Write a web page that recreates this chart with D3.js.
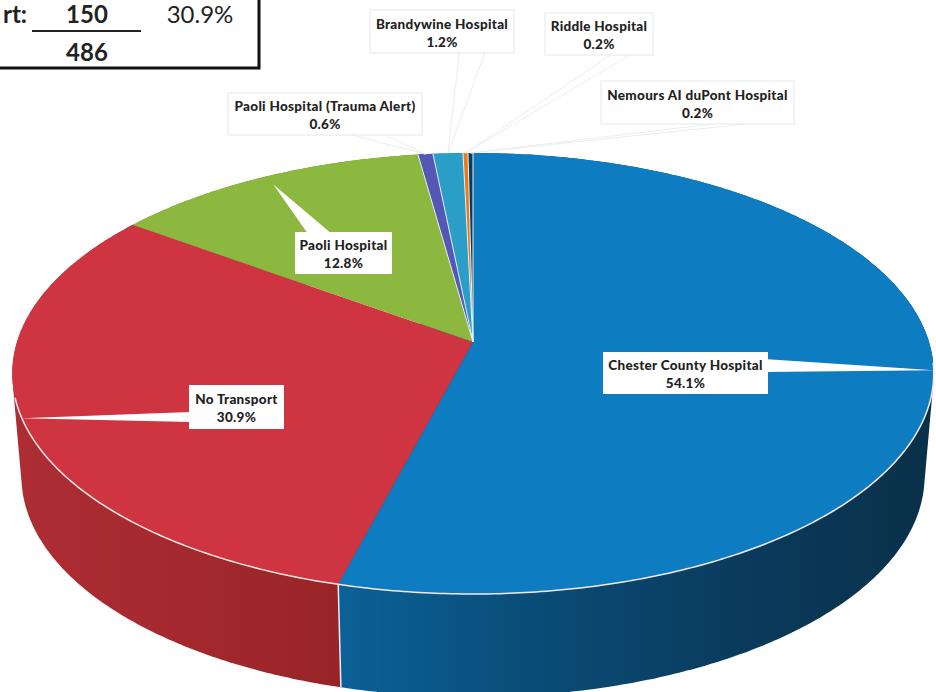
<!DOCTYPE html>
<html>
<head>
<meta charset="utf-8">
<script src="https://cdn.jsdelivr.net/npm/d3@7"></script>
<style>
  html, body { margin: 0; padding: 0; background: #fff; }
  svg { display: block; }
  text { font-family: Lato, "Open Sans", sans-serif; fill: #222; }
</style>
</head>
<body>
<div id="vis"></div>
<script>
// chart values
const hospitals = ["Chester County Hospital", "No Transport", "Paoli Hospital",
  "Paoli Hospital (Trauma Alert)", "Brandywine Hospital", "Riddle Hospital", "Nemours AI duPont Hospital"];
const shares = [54.1, 30.9, 12.8, 0.6, 1.2, 0.2, 0.2];
const tableLabel = "rt:";
const tableCount = "150";
const tableShare = "30.9%";
const tableTotal = "486";

// styling + layout, same order as hospitals
const topColors = ["#0e7cc1", "#cf3540", "#8cb83f", "#5557b5", "#2a9ec7", "#ea7a1c", "#0c3b5e"];
const wallColors = ["url(#wallBlue)", "url(#wallRed)", "#6c8f30", "#43458f", "#207a9a", "#b85f15", "#0a2c46"];
const boxes = [
  { x: 603, y: 352, w: 165, h: 42, side: "right", strong: true, tipR: 1 },
  { x: 189, y: 385, w: 95, h: 44, side: "left", strong: true, tipR: 1 },
  { x: 295, y: 232, w: 97, h: 42, side: "top", strong: true, tipR: 0.95 },
  { x: 228, y: 93, w: 194, h: 42, side: "bottom", tipR: 1 },
  { x: 370, y: 10, w: 144, h: 43, side: "bottom", tipR: 1 },
  { x: 545, y: 13, w: 108, h: 42, side: "bottom", tipR: 1 },
  { x: 601, y: 81, w: 193, h: 43, side: "bottom", tipR: 1 }
];

const width = 936, height = 692;

const svg = d3.select("#vis").append("svg")
  .attr("width", width)
  .attr("height", height);

const defs = svg.append("defs");
function wallGradient(id, x1, x2, stops) {
  const g = defs.append("linearGradient").attr("id", id)
    .attr("gradientUnits", "userSpaceOnUse")
    .attr("x1", x1).attr("x2", x2).attr("y1", 0).attr("y2", 0);
  stops.forEach(s => g.append("stop").attr("offset", s[0]).attr("stop-color", s[1]));
}
wallGradient("wallBlue", 340, 930, [[0, "#0b6198"], [0.35, "#0a4b75"], [0.7, "#0a3a5b"], [1, "#0a3049"]]);
wallGradient("wallRed", 15, 340, [[0, "#ad2d33"], [0.5, "#a4292e"], [1, "#982428"]]);

// perspective disc: the circle goes through a homography so the pie apex sits above the ellipse centre
const apexX = 473, apexY = 342, radiusX = 456, radiusY = 216, tilt = 1 / 7, depth = 103;
function project(angle, r, lower) {
  const u = Math.sin(angle) * r, v = -Math.cos(angle) * r;
  const w = 1 - tilt * v;
  return [
    apexX + (lower ? radiusX * 0.98 : radiusX) * u / w,
    apexY + radiusY * v / w + (lower ? depth : 0)
  ];
}
function arcPoints(a0, a1, lower) {
  const n = Math.max(2, Math.ceil(Math.abs(a1 - a0) / 0.01));
  return d3.range(n + 1).map(i => project(a0 + (a1 - a0) * i / n, 1, lower));
}

const line = d3.line();
const slices = d3.pie().sort(null).value(d => d)(shares);

// side walls, hull so the silhouette runs straight from top rim to bottom rim
svg.append("g").selectAll("path")
  .data(slices)
  .join("path")
  .attr("d", d => line(d3.polygonHull(arcPoints(d.startAngle, d.endAngle, false)
    .concat(arcPoints(d.startAngle, d.endAngle, true)))) + "Z")
  .attr("fill", (d, i) => wallColors[i]);

// white seam on the wall between chester and no transport
const seam = slices[0].endAngle;
svg.append("path")
  .attr("d", line([project(seam, 1, false), project(seam, 1, true)]))
  .attr("stroke", "#dff0f8").attr("stroke-width", 1.5).attr("fill", "none");

// top face
svg.append("g").selectAll("path")
  .data(slices)
  .join("path")
  .attr("d", d => line([project(0, 0, false)].concat(arcPoints(d.startAngle, d.endAngle, false))) + "Z")
  .attr("fill", (d, i) => topColors[i]);

// thin dividers round the small slices
svg.append("g").selectAll("path")
  .data(slices.filter((d, i) => i === 0 || i >= 3))
  .join("path")
  .attr("d", d => line([project(0, 0, false), project(d.startAngle, 1, false)]))
  .attr("stroke", "#e6f2f8").attr("stroke-width", 1).attr("fill", "none");

// rim
svg.append("path")
  .attr("d", line(arcPoints(Math.PI * 0.53, Math.PI * 1.42, false)))
  .attr("stroke", "#f4e9e6").attr("stroke-width", 1.5).attr("fill", "none");

// callouts: wedge from the box edge to the middle of the slice edge
const labels = svg.append("g");
labels.selectAll("path")
  .data(slices)
  .join("path")
  .attr("d", (d, i) => {
    const b = boxes[i];
    const tip = project((d.startAngle + d.endAngle) / 2, b.tipR, false);
    let p1, p2;
    if (b.side === "right") { p1 = [b.x + b.w - 4, b.y + 7]; p2 = [b.x + b.w - 4, b.y + 20]; }
    else if (b.side === "left") { p1 = [b.x + 2, b.y + 27]; p2 = [b.x + 2, b.y + 37]; }
    else if (b.side === "top") { p1 = [b.x + 13, b.y + 2]; p2 = [b.x + 37, b.y + 2]; }
    else { p1 = [b.x + b.w * 0.62, b.y + b.h - 1]; p2 = [b.x + b.w * 0.8, b.y + b.h - 1]; }
    return line([p1, tip, p2]) + "Z";
  })
  .attr("fill", "#fff")
  .attr("stroke", (d, i) => boxes[i].strong ? "none" : "#e9edf2")
  .attr("stroke-width", 1);

labels.selectAll("rect")
  .data(boxes)
  .join("rect")
  .attr("x", d => d.x).attr("y", d => d.y)
  .attr("width", d => d.w).attr("height", d => d.h)
  .attr("fill", "#fff")
  .attr("stroke", d => d.strong ? "none" : "#e4e7ec");

const labelText = labels.selectAll("text")
  .data(hospitals)
  .join("text")
  .attr("text-anchor", "middle")
  .attr("font-size", 13.5)
  .attr("letter-spacing", 0.3)
  .attr("font-weight", 900);
labelText.append("tspan")
  .attr("x", (d, i) => boxes[i].x + boxes[i].w / 2)
  .attr("y", (d, i) => boxes[i].y + boxes[i].h / 2 - 3)
  .text(d => d);
labelText.append("tspan")
  .attr("x", (d, i) => boxes[i].x + boxes[i].w / 2)
  .attr("y", (d, i) => boxes[i].y + boxes[i].h / 2 + 15)
  .text((d, i) => shares[i].toFixed(1) + "%");

// the table cropped off in the top left corner
const table = svg.append("g");
table.append("path")
  .attr("d", line([[-5, 68], [259, 68], [259, -5]]))
  .attr("fill", "none").attr("stroke", "#111").attr("stroke-width", 3);
table.append("path")
  .attr("d", line([[32, 31], [141, 31]]))
  .attr("fill", "none").attr("stroke", "#222").attr("stroke-width", 2);
table.append("text").attr("x", 27).attr("y", 23).attr("text-anchor", "end")
  .attr("font-size", 24).attr("font-weight", 700).text(tableLabel);
table.append("text").attr("x", 87).attr("y", 23).attr("text-anchor", "middle")
  .attr("font-size", 24).attr("font-weight", 700).text(tableCount);
table.append("text").attr("x", 200).attr("y", 23).attr("text-anchor", "middle")
  .attr("font-size", 24).attr("font-weight", 400).text(tableShare);
table.append("text").attr("x", 87).attr("y", 61).attr("text-anchor", "middle")
  .attr("font-size", 24).attr("font-weight", 700).text(tableTotal);
</script>
</body>
</html>
